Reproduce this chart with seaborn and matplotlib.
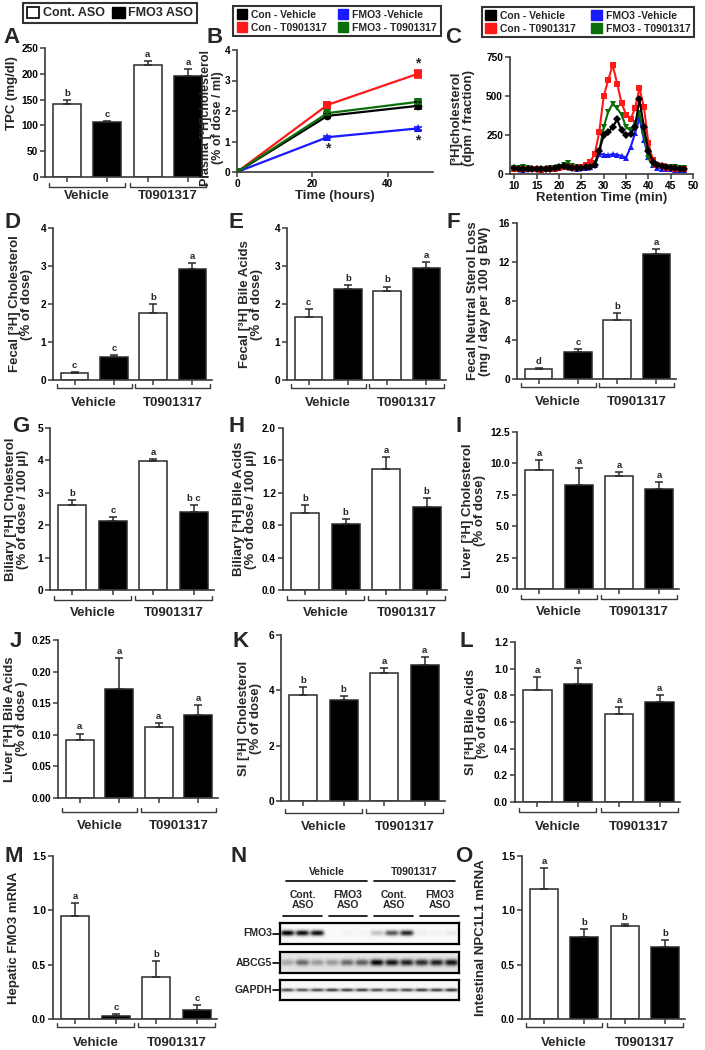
import numpy as np
import pandas as pd
import matplotlib
matplotlib.use("Agg")
import matplotlib.pyplot as plt
import seaborn as sns
from matplotlib.patches import Patch
from matplotlib.lines import Line2D

# --- data ---
groups = ["Vehicle", "T0901317"]
asos = ["Cont. ASO", "FMO3 ASO"]
bar_cats = ["Cont-Veh", "FMO3-Veh", "Cont-T09", "FMO3-T09"]
bar_fill = ["white", "black", "white", "black"]

tpc = [142, 106, 217, 196]
tpc_err = [8, 3, 8, 13]
tpc_let = ["b", "c", "a", "a"]

fecal_chol = [0.18, 0.6, 1.77, 2.91]
fecal_chol_err = [0.03, 0.05, 0.24, 0.16]
fecal_chol_let = ["c", "c", "b", "a"]

fecal_ba = [1.67, 2.4, 2.35, 2.94]
fecal_ba_err = [0.19, 0.1, 0.11, 0.16]
fecal_ba_let = ["c", "b", "b", "a"]

fecal_ns = [0.99, 2.8, 6.04, 12.86]
fecal_ns_err = [0.1, 0.27, 0.75, 0.5]
fecal_ns_let = ["d", "c", "b", "a"]

bil_chol = [2.62, 2.12, 3.98, 2.42]
bil_chol_err = [0.15, 0.13, 0.07, 0.2]
bil_chol_let = ["b", "c", "a", "b c"]

bil_ba = [0.95, 0.81, 1.5, 1.03]
bil_ba_err = [0.1, 0.07, 0.14, 0.11]
bil_ba_let = ["b", "b", "a", "b"]

liv_chol = [9.5, 8.3, 9.0, 8.0]
liv_chol_err = [0.75, 1.3, 0.33, 0.5]
liv_chol_let = ["a", "a", "a", "a"]

liv_ba = [0.092, 0.173, 0.112, 0.131]
liv_ba_err = [0.01, 0.048, 0.006, 0.016]
liv_ba_let = ["a", "a", "a", "a"]

si_chol = [3.84, 3.66, 4.63, 4.91]
si_chol_err = [0.28, 0.15, 0.16, 0.3]
si_chol_let = ["b", "b", "a", "a"]

si_ba = [0.843, 0.888, 0.66, 0.753]
si_ba_err = [0.095, 0.12, 0.05, 0.05]
si_ba_let = ["a", "a", "a", "a"]

fmo3_mrna = [0.944, 0.03, 0.39, 0.087]
fmo3_mrna_err = [0.12, 0.013, 0.14, 0.04]
fmo3_mrna_let = ["a", "c", "b", "c"]

npc1l1 = [1.2, 0.754, 0.858, 0.66]
npc1l1_err = [0.19, 0.07, 0.015, 0.07]
npc1l1_let = ["a", "b", "b", "b"]

line_groups = ["Con - Vehicle", "Con - T0901317", "FMO3 -Vehicle", "FMO3 - T0901317"]
line_colors = ["#000000", "#ff1a1a", "#1a1aff", "#0b6e0b"]
line_markers = ["o", "s", "^", "v"]

time_h = [0, 24, 48]
plasma = {
    "Con - Vehicle": [0, 1.84, 2.17],
    "Con - T0901317": [0, 2.2, 3.22],
    "FMO3 -Vehicle": [0, 1.14, 1.43],
    "FMO3 - T0901317": [0, 1.93, 2.3],
}
plasma_err = {
    "Con - Vehicle": [0, 0.06, 0.12],
    "Con - T0901317": [0, 0.1, 0.13],
    "FMO3 -Vehicle": [0, 0.03, 0.04],
    "FMO3 - T0901317": [0, 0.05, 0.06],
}

ret_time = list(range(10, 49))
fplc = {
    "Con - Vehicle": [40, 35, 32, 33, 35, 32, 30, 33, 35, 38, 45, 50, 45, 40, 38, 40, 42, 48, 60,
                      150, 250, 270, 300, 350, 280, 250, 255, 300, 480, 300, 150, 80, 60, 50, 45, 40, 38, 35, 35],
    "Con - T0901317": [35, 32, 30, 30, 32, 30, 28, 30, 32, 35, 40, 45, 42, 40, 38, 45, 55, 80, 130,
                       270, 500, 600, 700, 580, 455, 380, 350, 420, 550, 430, 200, 90, 60, 50, 40, 38, 35, 35, 35],
    "FMO3 -Vehicle": [35, 30, 28, 30, 32, 30, 28, 30, 32, 35, 40, 45, 42, 38, 35, 38, 40, 45, 60,
                      130, 125, 120, 128, 125, 115, 105, 170, 260, 360, 220, 110, 60, 40, 35, 30, 30, 28, 28, 28],
    "FMO3 - T0901317": [40, 38, 45, 40, 35, 33, 32, 35, 38, 40, 45, 55, 70, 50, 45, 45, 48, 55, 70,
                        150, 300, 400, 450, 420, 380, 300, 280, 330, 390, 250, 100, 60, 50, 45, 45, 45, 42, 40, 40],
}

fmo3_band = [1.0, 0.95, 0.95, 0.0, 0.03, 0.02, 0.22, 0.65, 0.85, 0.05, 0.04, 0.06]
abcg5_band = [0.25, 0.5, 0.3, 0.3, 0.5, 0.55, 0.9, 0.85, 0.8, 0.75, 0.8, 0.85]
gapdh_band = [0.7, 0.65, 0.7, 0.75, 0.75, 0.75, 0.7, 0.65, 0.7, 0.75, 0.75, 0.8]

# --- figure setup ---
W, H = 705, 1050
sns.set_theme(style="ticks")
plt.rcParams["font.family"] = ["Liberation Sans", "DejaVu Sans"]
plt.rcParams["font.weight"] = "bold"
AX = "#3a3a3a"

fig = plt.figure(figsize=(W / 100, H / 100), dpi=100)


def fx(x):
    return x / W


def fy(y):
    return 1 - y / H


def px_axes(l, t, r, b):
    return fig.add_axes([l / W, 1 - b / H, (r - l) / W, (b - t) / H])


def style(ax):
    sns.despine(ax=ax)
    for s in ["left", "bottom"]:
        ax.spines[s].set_color(AX)
        ax.spines[s].set_linewidth(1.2)
    ax.tick_params(colors=AX, labelcolor="black", width=1.1, length=3.5, labelsize=7.3, pad=1.5)
    for lab in ax.get_xticklabels() + ax.get_yticklabels():
        lab.set_fontweight("bold")


def ylab(x, y, text, size=9.5):
    fig.text(fx(x), fy(y), text, rotation=90, ha="center", va="center",
             fontsize=size, fontweight="bold", linespacing=1.1, multialignment="center")


def letter(x, y, s):
    fig.text(fx(x), fy(y), s, ha="left", va="top", fontsize=16, fontweight="bold")


def bar_panel(box, vals, errs, lets, yticks, fmt, label, lab_x, lab_y=None, brk=(10, 15)):
    l, t, r, b = box
    ax = px_axes(l, t, r, b)
    df = pd.DataFrame({"cat": bar_cats, "val": vals})
    sns.barplot(data=df, x="cat", y="val", hue="cat", palette=dict(zip(bar_cats, bar_fill)),
                edgecolor="#2a2a2a", linewidth=1.1, width=0.7, saturation=1, legend=False, ax=ax)
    ax.errorbar(np.arange(4), vals, yerr=[np.zeros(4), errs], fmt="none", ecolor="#2a2a2a",
                elinewidth=1.1, capsize=3, capthick=1.1)
    for i, (v, e, s) in enumerate(zip(vals, errs, lets)):
        ax.annotate(s, (i, v + e), xytext=(0, 1.5), textcoords="offset points",
                    ha="center", va="bottom", fontsize=6.8, fontweight="bold")
    ax.set_ylim(0, yticks[-1])
    ax.set_yticks(yticks)
    ax.set_yticklabels([fmt.format(v) for v in yticks])
    ax.set_xlim(-0.55, 3.5)
    ax.set_xticks(range(4))
    ax.set_xticklabels([])
    ax.set_xlabel("")
    ax.set_ylabel("")
    style(ax)
    hpx = b - t
    tr = ax.get_xaxis_transform()
    for (x0, x1), g in zip([(-0.45, 1.45), (1.55, 3.45)], groups):
        yb = -brk[0] / hpx
        yt = yb + 4 / hpx
        ax.plot([x0, x0, x1, x1], [yt, yb, yb, yt], transform=tr, clip_on=False, color=AX, lw=1)
        ax.text((x0 + x1) / 2, -brk[1] / hpx, g, transform=tr, ha="center", va="top",
                fontsize=9.5, fontweight="bold")
    ylab(lab_x, lab_y if lab_y is not None else (t + b) / 2, label)
    return ax


# --- legends ---
leg = fig.legend(handles=[Patch(fc="white", ec="black", lw=1.2), Patch(fc="black", ec="black")],
                 labels=asos, loc="center", bbox_to_anchor=(fx(110), fy(13)), ncol=2,
                 frameon=True, fancybox=False, edgecolor="black", prop={"weight": "bold", "size": 9},
                 handlelength=1.0, handleheight=1.0, handletextpad=0.3, columnspacing=0.6, borderpad=0.3)
leg.get_frame().set_linewidth(1.5)

sq = [Patch(fc=c, ec=c) for c in line_colors]
for cx, cy, cs in [(337, 21, 1.0), (588, 22, 1.5)]:
    lg = fig.legend(handles=sq, labels=line_groups, loc="center", bbox_to_anchor=(fx(cx), fy(cy)),
                    ncol=2, frameon=True, fancybox=False, edgecolor="black",
                    prop={"weight": "bold", "size": 7.5}, handlelength=1.0, handleheight=1.0,
                    handletextpad=0.4, columnspacing=cs, borderpad=0.35, labelspacing=0.25)
    lg.get_frame().set_linewidth(1.5)

# --- A ---
bar_panel((45, 48, 208, 177), tpc, tpc_err, tpc_let, [0, 50, 100, 150, 200, 250], "{:g}",
          "TPC (mg/dl)", 12, 93, brk=(10, 13))
letter(3, 27, "A")

# --- B ---
axB = px_axes(237, 50, 433, 172)
dfB = pd.DataFrame([(t, plasma[g][i], g) for g in line_groups for i, t in enumerate(time_h)],
                   columns=["time", "val", "grp"])
sns.lineplot(data=dfB, x="time", y="val", hue="grp", style="grp", hue_order=line_groups,
             style_order=line_groups, palette=line_colors, markers=line_markers, dashes=False,
             markersize=5.5, markeredgewidth=0, linewidth=1.6, legend=False, ax=axB)
for g, c in zip(line_groups, line_colors):
    axB.errorbar(time_h, plasma[g], yerr=plasma_err[g], fmt="none", ecolor=c, elinewidth=1.2,
                 capsize=3, capthick=1.2)
for t_, v_ in [(48, 3.56), (24, 0.78), (48, 1.05)]:
    axB.text(t_, v_, "*", ha="center", va="center", fontsize=10, fontweight="bold")
axB.set_xlim(0, 52)
axB.set_ylim(0, 4)
axB.set_xticks([0, 20, 40])
axB.set_yticks([0, 1, 2, 3, 4])
axB.set_xlabel("Time (hours)", fontsize=9.5, fontweight="bold", labelpad=1)
axB.set_ylabel("")
style(axB)
ylab(212, 118, "Plasma [³H]cholesterol\n(% of dose / ml)", size=9)
letter(207, 27, "B")

# --- C ---
axC = px_axes(510, 57, 693, 174)
dfC = pd.DataFrame([(t, fplc[g][i], g) for g in line_groups for i, t in enumerate(ret_time)],
                   columns=["time", "val", "grp"])
sns.lineplot(data=dfC, x="time", y="val", hue="grp", style="grp",
             hue_order=["FMO3 -Vehicle", "FMO3 - T0901317", "Con - T0901317", "Con - Vehicle"],
             style_order=line_groups, palette=dict(zip(line_groups, line_colors)),
             markers=dict(zip(line_groups, ["D", "s", "^", "v"])), dashes=False,
             markersize=3.8, markeredgewidth=0, linewidth=1.5, legend=False, ax=axC)
axC.set_xlim(9, 50)
axC.set_ylim(0, 750)
axC.set_xticks(range(10, 51, 5))
axC.set_yticks([0, 250, 500, 750])
axC.set_xlabel("Retention Time (min)", fontsize=9.5, fontweight="bold", labelpad=1)
axC.set_ylabel("")
style(axC)
ylab(463, 118, "[³H]cholesterol\n(dpm / fraction)")
letter(445, 27, "C")

# --- D E F ---
bar_panel((53, 228, 212, 380), fecal_chol, fecal_chol_err, fecal_chol_let, [0, 1, 2, 3, 4], "{:g}",
          "Fecal [³H] Cholesterol\n(% of dose)", 21, brk=(8, 17))
letter(5, 212, "D")
bar_panel((287, 228, 446, 380), fecal_ba, fecal_ba_err, fecal_ba_let, [0, 1, 2, 3, 4], "{:g}",
          "Fecal [³H] Bile Acids\n(% of dose)", 251, brk=(8, 17))
letter(228, 212, "E")
bar_panel((517, 223, 676, 379), fecal_ns, fecal_ns_err, fecal_ns_let, [0, 4, 8, 12, 16], "{:g}",
          "Fecal Neutral Sterol Loss\n(mg / day per 100 g BW)", 479, brk=(8, 17))
letter(446, 212, "F")

# --- G H I ---
bar_panel((50, 428, 214, 590), bil_chol, bil_chol_err, bil_chol_let, [0, 1, 2, 3, 4, 5], "{:g}",
          "Biliary [³H] Cholesterol\n(% of dose / 100 µl)", 17, brk=(10, 17))
letter(12, 416, "G")
bar_panel((283, 428, 447, 590), bil_ba, bil_ba_err, bil_ba_let, [0, 0.4, 0.8, 1.2, 1.6, 2.0], "{:.1f}",
          "Biliary [³H] Bile Acids\n(% of dose / 100 µl)", 245, brk=(10, 17))
letter(228, 416, "H")
bar_panel((517, 432, 679, 589), liv_chol, liv_chol_err, liv_chol_let, [0, 2.5, 5, 7.5, 10, 12.5], "{:.1f}",
          "Liver [³H] Cholesterol\n(% of dose)", 474, brk=(10, 17))
letter(455, 416, "I")

# --- J K L ---
bar_panel((58, 640, 218, 798), liv_ba, liv_ba_err, liv_ba_let, [0, 0.05, 0.1, 0.15, 0.2, 0.25], "{:.2f}",
          "Liver [³H] Bile Acids\n(% of dose )", 16, brk=(14, 22))
letter(10, 631, "J")
bar_panel((281, 635, 445, 801), si_chol, si_chol_err, si_chol_let, [0, 2, 4, 6], "{:g}",
          "SI [³H] Cholesterol\n(% of dose)", 250, brk=(12, 20))
letter(233, 631, "K")
bar_panel((515, 642, 680, 802), si_ba, si_ba_err, si_ba_let, [0, 0.2, 0.4, 0.6, 0.8, 1.0, 1.2], "{:.1f}",
          "SI [³H] Bile Acids\n(% of dose)", 477, brk=(10, 19))
letter(459, 631, "L")

# --- M O ---
bar_panel((53, 856, 217, 1019), fmo3_mrna, fmo3_mrna_err, fmo3_mrna_let, [0, 0.5, 1.0, 1.5], "{:.1f}",
          "Hepatic FMO3 mRNA", 14, brk=(8, 18))
letter(5, 846, "M")
bar_panel((522, 856, 685, 1019), npc1l1, npc1l1_err, npc1l1_let, [0, 0.5, 1.0, 1.5], "{:.1f}",
          "Intestinal NPC1L1 mRNA", 481, brk=(8, 18))
letter(455, 846, "O")

# --- N: western blot ---
letter(230, 846, "N")


def blot(box, intens, sig_y, bg, name):
    l, t, r, b = box
    ax = px_axes(l, t, r, b)
    wpx, hpx = r - l, b - t
    xs = np.arange(wpx * 4) / 4 + 0.125
    ys = np.arange(hpx * 4) / 4 + 0.125
    lane_w = wpx / len(intens)
    img = np.full((len(ys), len(xs)), bg)
    for i, v in enumerate(intens):
        xc = (i + 0.5) * lane_w
        px_ = np.exp(-((xs - xc) / (lane_w * 0.45)) ** 4)
        py_ = np.exp(-((ys - hpx * 0.5) / sig_y) ** 2)
        img += v * np.outer(py_, px_)
    ax.imshow(np.clip(img, 0, 1), cmap="gray_r", vmin=0, vmax=1, aspect="auto", interpolation="bilinear")
    ax.set_xticks([])
    ax.set_yticks([])
    for s in ax.spines.values():
        s.set_visible(True)
        s.set_linewidth(1.6)
        s.set_color("black")
    yc = (t + b) / 2
    fig.text(fx(l - 8), fy(yc), name, ha="right", va="center", fontsize=7.5, fontweight="bold")
    fig.add_artist(Line2D([fx(l - 7), fx(l)], [fy(yc), fy(yc)], color="black", lw=1.2))


blot((280, 923, 459, 944), fmo3_band, 2.6, 0.02, "FMO3")
blot((280, 952, 459, 973), abcg5_band, 3.2, 0.1, "ABCG5")
blot((280, 980, 459, 1000), gapdh_band, 1.6, 0.03, "GAPDH")

for (x0, x1), g in zip([(286, 367), (374, 455)], groups):
    fig.text(fx((x0 + x1) / 2), fy(872), g, ha="center", va="center", fontsize=7.5, fontweight="bold")
    fig.add_artist(Line2D([fx(x0), fx(x1)], [fy(881), fy(881)], color="black", lw=1.2))
for (x0, x1), a in zip([(283, 322), (329, 367), (374, 413), (420, 459)], asos * 2):
    fig.text(fx((x0 + x1) / 2), fy(900), a.replace(" ", "\n"), ha="center", va="center",
             fontsize=7.5, fontweight="bold", linespacing=1.0, multialignment="center")
    fig.add_artist(Line2D([fx(x0), fx(x1)], [fy(916), fy(916)], color="black", lw=1.2))

fig.savefig("out.png", dpi=100)
